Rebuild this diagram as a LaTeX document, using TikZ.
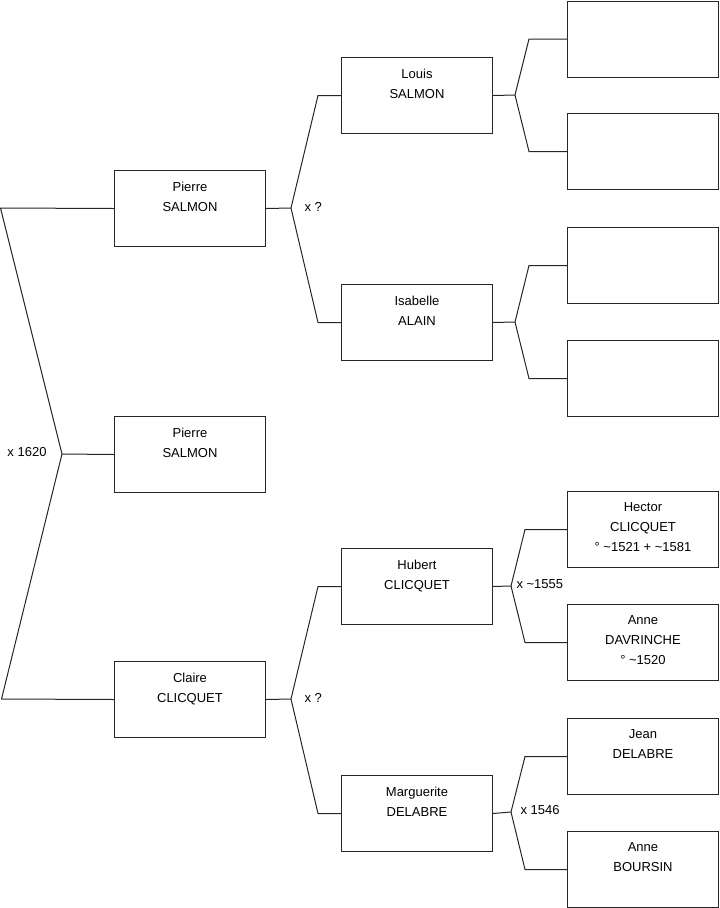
\documentclass[tikz,border=0pt]{standalone}
\usepackage{fontspec}
\setmainfont{Liberation Sans}
\begin{document}
\begin{tikzpicture}[x=0.75pt,y=-0.75pt,line width=0.75pt,
  conn/.style={draw=black!85, line join=round},
  box/.style={draw=black!85, minimum width=113.25pt, minimum height=57pt, anchor=north west, inner sep=0pt},
  txt/.style={anchor=north, align=center, inner sep=0pt, yshift=-8.4pt, font=\fontsize{9.75}{15}\selectfont},
  lbl/.style={anchor=west, inner sep=0pt, font=\fontsize{9.75}{11}\selectfont}]
\useasboundingbox (0,0) rectangle (719,908);
% column 1
\node[box] (p1) at (114,170) {};
\node[box] (p2) at (114,416) {};
\node[box] (claire) at (114,661) {};
% column 2
\node[box] (louis) at (341,57) {};
\node[box] (isabelle) at (341,284) {};
\node[box] (hubert) at (341,548) {};
\node[box] (marguerite) at (341,775) {};
% column 3
\node[box] (e1) at (567,0.5) {};
\node[box] (e2) at (567,113) {};
\node[box] (e3) at (567,227) {};
\node[box] (e4) at (567,340) {};
\node[box] (hector) at (567,491) {};
\node[box] (anned) at (567,604) {};
\node[box] (jean) at (567,718) {};
\node[box] (anneb) at (567,831) {};
% texts
\node[txt] (t1) at (p1.north) {Pierre\\SALMON};
\node[txt] (t2) at (p2.north) {Pierre\\SALMON};
\node[txt] (t3) at (claire.north) {Claire\\CLICQUET};
\node[txt] (t4) at (louis.north) {Louis\\SALMON};
\node[txt] (t5) at (isabelle.north) {Isabelle\\ALAIN};
\node[txt] (t6) at (hubert.north) {Hubert\\CLICQUET};
\node[txt] (t7) at (marguerite.north) {Marguerite\\DELABRE};
\node[txt] (t8) at (hector.north) {Hector\\CLICQUET\\° \textasciitilde1521 + \textasciitilde1581};
\node[txt] (t9) at (anned.north) {Anne\\DAVRINCHE\\° \textasciitilde1520};
\node[txt] (t10) at (jean.north) {Jean\\DELABRE};
\node[txt] (t11) at (anneb.north) {Anne\\BOURSIN};
% junctions
\coordinate (root) at (62,454);
\coordinate (rt) at (0.5,208);
\coordinate (rb) at (1.5,699);
\coordinate (ja) at (291,208);
\coordinate (jb) at (291,699);
\coordinate (jl) at (515,95);
\coordinate (ji) at (515,322);
\coordinate (jh) at (511,586);
\coordinate (jm) at (511,812);
% connectors
\draw[conn] (p1.west) -- (rt) -- (root) -- (rb) -- (claire.west);
\draw[conn] (root) -- (p2.west);
\draw[conn] (p1.east) -- (ja);
\draw[conn] (louis.west) -- ++(-23,0) -- (ja);
\draw[conn] (isabelle.west) -- ++(-23,0) -- (ja);
\draw[conn] (claire.east) -- (jb);
\draw[conn] (hubert.west) -- ++(-23,0) -- (jb);
\draw[conn] (marguerite.west) -- ++(-23,0) -- (jb);
\draw[conn] (louis.east) -- (jl);
\draw[conn] (e1.west) -- ++(-38,0) -- (jl);
\draw[conn] (e2.west) -- ++(-38,0) -- (jl);
\draw[conn] (isabelle.east) -- (ji);
\draw[conn] (e3.west) -- ++(-38,0) -- (ji);
\draw[conn] (e4.west) -- ++(-38,0) -- (ji);
\draw[conn] (hubert.east) -- (jh);
\draw[conn] (hector.west) -- ++(-42,0) -- (jh);
\draw[conn] (anned.west) -- ++(-42,0) -- (jh);
\draw[conn] (marguerite.east) -- (jm);
\draw[conn] (jean.west) -- ++(-42,0) -- (jm);
\draw[conn] (anneb.west) -- ++(-42,0) -- (jm);
% labels
\node[lbl] (l1) at (7,452) {x 1620};
\node[lbl] (l2) at (304,207) {x ?};
\node[lbl] (l3) at (304,698) {x ?};
\node[lbl] (l4) at (516,584) {x \textasciitilde1555};
\node[lbl] (l5) at (520,810) {x 1546};
\end{tikzpicture}
\end{document}
